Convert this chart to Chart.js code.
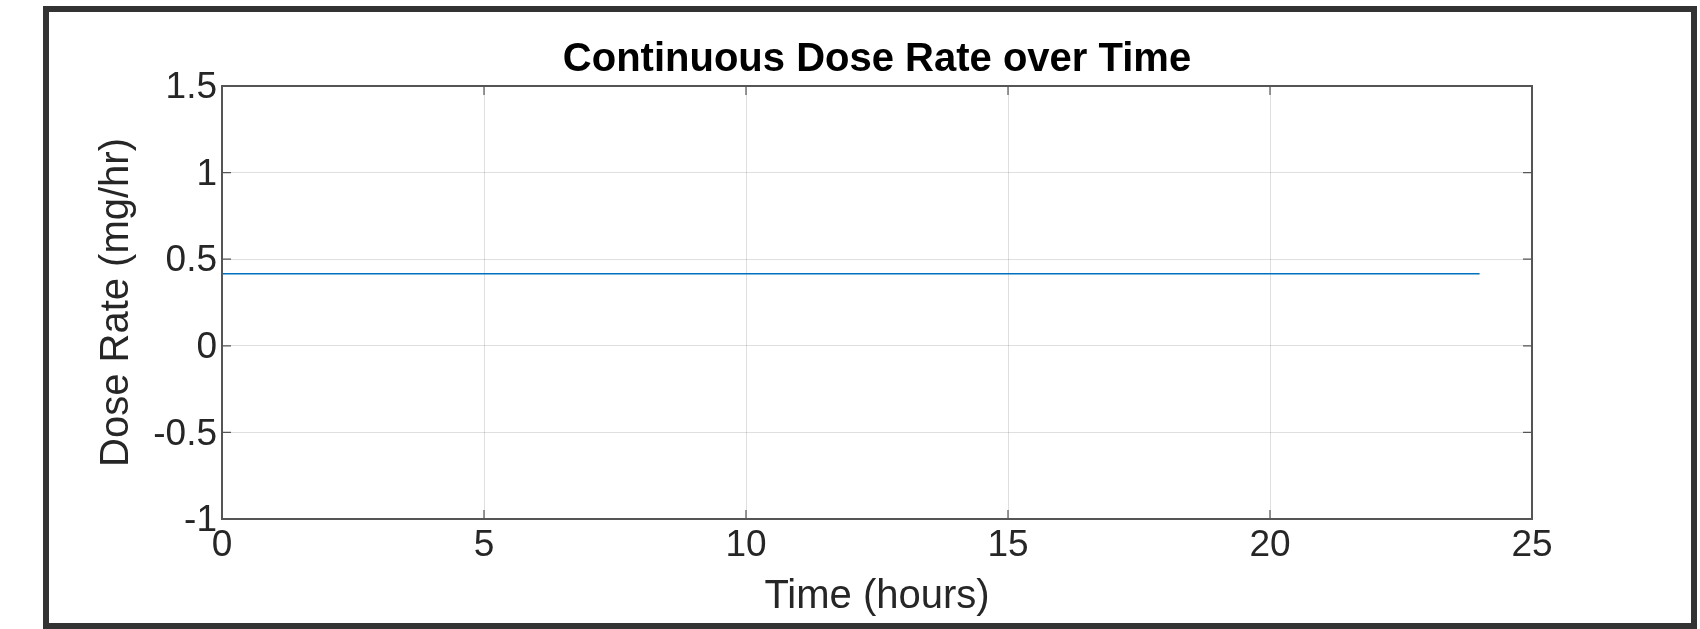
<!DOCTYPE html>
<html>
<head>
<meta charset="utf-8">
<script src="https://cdn.jsdelivr.net/npm/chart.js@4.4.1/dist/chart.umd.min.js"></script>
<style>
  html, body { margin: 0; padding: 0; background: #ffffff; width: 1700px; height: 629px; overflow: hidden; }
  #frame { position: absolute; left: 43px; top: 6px; width: 1642px; height: 611px; border: 6px solid #333333; box-sizing: content-box; }
  #c { position: absolute; left: 0; top: 0; }
</style>
</head>
<body>
<div id="frame"></div>
<canvas id="c" width="1700" height="629"></canvas>
<script>
// ---- data ----
const times = [0, 24];                 // hours
const doseRate = [0.4167, 0.4167];     // mg/hr
const xTicks = [0, 5, 10, 15, 20, 25];
const yTicks = [-1, -0.5, 0, 0.5, 1, 1.5];
const chartTitle = 'Continuous Dose Rate over Time';
const xLabel = 'Time (hours)';
const yLabel = 'Dose Rate (mg/hr)';

const FONT = "'Liberation Sans', Arial, Helvetica, sans-serif";
const TXT = '#262626';
const BOX = '#555555';

const boxPlugin = {
  id: 'boxPlugin',
  afterDatasetsDraw(chart) {
    const {ctx, chartArea: a, scales} = chart;
    ctx.save();
    ctx.strokeStyle = BOX;
    ctx.lineWidth = 1.2;
    const tl = 9;
    ctx.beginPath();
    scales.x.ticks.forEach(t => {
      const px = scales.x.getPixelForValue(t.value);
      ctx.moveTo(px, a.bottom); ctx.lineTo(px, a.bottom - tl);
      ctx.moveTo(px, a.top); ctx.lineTo(px, a.top + tl);
    });
    scales.y.ticks.forEach(t => {
      const py = scales.y.getPixelForValue(t.value);
      ctx.moveTo(a.left, py); ctx.lineTo(a.left + tl, py);
      ctx.moveTo(a.right, py); ctx.lineTo(a.right - tl, py);
    });
    ctx.stroke();
    ctx.lineWidth = 2;
    ctx.strokeRect(a.left, a.top, a.right - a.left, a.bottom - a.top);
    ctx.restore();
  }
};

new Chart(document.getElementById('c'), {
  type: 'line',
  data: {
    datasets: [{
      data: times.map((t, i) => ({x: t, y: doseRate[i]})),
      borderColor: '#0072BD',
      borderWidth: 1.5,
      pointRadius: 0,
      tension: 0,
      fill: false
    }]
  },
  options: {
    responsive: false,
    animation: false,
    events: [],
    layout: { padding: { left: 60, right: 168, top: 0, bottom: 0 } },
    plugins: {
      legend: { display: false },
      tooltip: { enabled: false },
      title: {
        display: true,
        fullSize: false,
        text: chartTitle,
        color: '#000000',
        font: { family: FONT, size: 40, weight: 'bold', lineHeight: 1.2 },
        padding: { top: 36, bottom: 2 }
      }
    },
    scales: {
      x: {
        type: 'linear',
        min: 0, max: 25,
        afterBuildTicks: s => { s.ticks = xTicks.map(v => ({value: v})); },
        afterFit: s => { s.height = 110; },
        ticks: { color: TXT, font: { family: FONT, size: 37 }, padding: 5, maxRotation: 0, autoSkip: false, callback: v => String(v) },
        grid: { color: 'rgba(38,38,38,0.15)', lineWidth: 1, drawTicks: false },
        border: { display: false },
        title: { display: true, text: xLabel, color: TXT, font: { family: FONT, size: 40, lineHeight: 1.2 }, padding: { top: 0, bottom: 8 } }
      },
      y: {
        type: 'linear',
        min: -1, max: 1.5,
        afterBuildTicks: s => { s.ticks = yTicks.map(v => ({value: v})); },
        afterFit: s => { s.width = 162; },
        ticks: { color: TXT, font: { family: FONT, size: 37 }, padding: 5, labelOffset: 2, autoSkip: false, callback: v => String(v) },
        grid: { color: 'rgba(38,38,38,0.15)', lineWidth: 1, drawTicks: false },
        border: { display: false },
        title: { display: true, text: yLabel, color: TXT, font: { family: FONT, size: 40, lineHeight: 1.2 }, padding: { top: 33, bottom: 0 } }
      }
    }
  },
  plugins: [boxPlugin]
});
</script>
</body>
</html>
